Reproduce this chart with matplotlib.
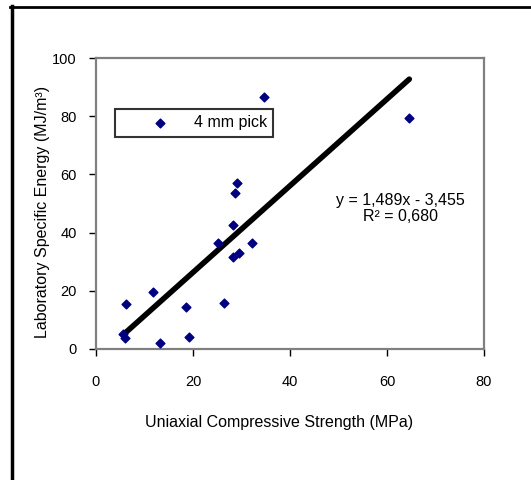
import numpy as np
import matplotlib.pyplot as plt
from matplotlib.lines import Line2D

plt.rcParams['font.family'] = ['Liberation Sans', 'DejaVu Sans']

ucs = [5.6, 6.0, 6.2, 11.7, 13.2, 18.5, 19.2, 25.2, 26.3, 28.3, 28.3, 28.6, 29.0, 29.4, 32.1, 34.6, 64.6]
sec = [5.0, 3.9, 15.3, 19.5, 2.2, 14.5, 4.2, 36.5, 15.9, 42.5, 31.7, 53.5, 57.2, 32.9, 36.5, 86.6, 79.5]
slope = 1.489
intercept = -3.455
r2 = 0.680

fig = plt.figure(figsize=(5.31, 4.8), dpi=100)
ax = fig.add_axes([96/531, 1 - 349/480, 388/531, 291/480])

ax.scatter(ucs, sec, marker='D', s=20, color='#000080', zorder=3, label='4 mm pick')
xs = np.array([min(ucs), max(ucs)])
ax.plot(xs, slope * xs + intercept, color='black', lw=4, solid_capstyle='round', zorder=2)

ax.set_xlim(0, 80)
ax.set_ylim(0, 100)
ax.set_xticks([0, 20, 40, 60, 80])
ax.set_yticks([0, 20, 40, 60, 80, 100])
for s in ax.spines.values():
    s.set_color('#808080')
    s.set_linewidth(1.6)
ax.tick_params(direction='out', length=5, width=1, color='black', labelsize=10.5, pad=9)
ax.tick_params(axis='x', pad=14)

ax.set_xlabel('Uniaxial Compressive Strength (MPa)', fontsize=11.5)
ax.set_ylabel('Laboratory Specific Energy (MJ/m³)', fontsize=11.5)
ax.xaxis.set_label_coords(0.473, -0.228)
ax.yaxis.set_label_coords(-0.118, 0.47)

ax.text(62.7, 48.4, 'y = 1,489x - 3,455\nR² = 0,680', ha='center', va='center',
        fontsize=11.5, linespacing=1.1)

leg = ax.legend(loc='upper left', bbox_to_anchor=(0.05, 0.825), frameon=True, fancybox=False,
                edgecolor='black', fontsize=11.5, handlelength=4.8, handletextpad=-0.3,
                borderpad=0.4, scatterpoints=1, borderaxespad=0)
leg.get_frame().set_linewidth(1.5)

# outer frame (left and top only visible)
fig.add_artist(Line2D([11.5/531, 11.5/531], [0, 1 - 6/480], color='black', lw=2.5, transform=fig.transFigure))
fig.add_artist(Line2D([10/531, 1], [1 - 7/480, 1 - 7/480], color='black', lw=2, transform=fig.transFigure))

fig.savefig('out.png', dpi=100)
